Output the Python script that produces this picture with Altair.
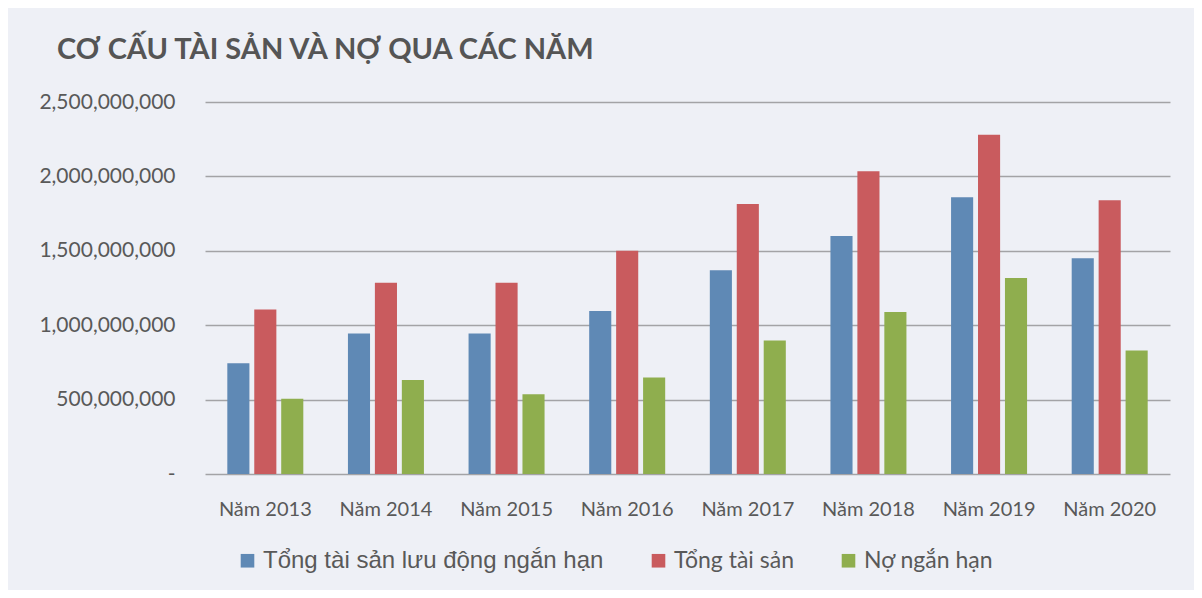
import altair as alt
import pandas as pd

years = ["Năm 2013", "Năm 2014", "Năm 2015", "Năm 2016", "Năm 2017", "Năm 2018", "Năm 2019", "Năm 2020"]
series = ["Tổng tài sản lưu động ngắn hạn", "Tổng tài sản", "Nợ ngắn hạn"]
tong_ts_luu_dong = [745e6, 945e6, 945e6, 1095e6, 1370e6, 1600e6, 1860e6, 1450e6]
tong_tai_san = [1105e6, 1285e6, 1285e6, 1500e6, 1815e6, 2035e6, 2280e6, 1840e6]
no_ngan_han = [505e6, 632e6, 536e6, 648e6, 897e6, 1088e6, 1318e6, 830e6]
y_ticks = [0, 500e6, 1000e6, 1500e6, 2000e6, 2500e6]
colors = ["#5f89b5", "#c95b5e", "#8fae4e"]

rows = []
for i, yr in enumerate(years):
    for s, vals in zip(series, [tong_ts_luu_dong, tong_tai_san, no_ngan_han]):
        rows.append({"Năm": yr, "Chỉ tiêu": s, "Giá trị": vals[i]})
df = pd.DataFrame(rows)

text_color = "#595959"
first = series[0]

chart = alt.Chart(df).mark_bar().encode(
    x=alt.X("Năm:N", sort=years,
            scale=alt.Scale(paddingInner=0.37, paddingOuter=0.185),
            axis=alt.Axis(title=None, labelAngle=0, ticks=False, domain=False,
                          labelFont="Lato", labelFontSize=20, labelColor=text_color,
                          labelPadding=25)),
    xOffset=alt.XOffset("Chỉ tiêu:N", sort=series,
                        scale=alt.Scale(paddingInner=0.18, paddingOuter=0)),
    y=alt.Y("Giá trị:Q", scale=alt.Scale(domain=[0, 2500e6]),
            axis=alt.Axis(title=None, values=y_ticks, grid=True, gridColor="#a3a3a6",
                          gridWidth=1.5, domain=False, ticks=False, labelPadding=30,
                          labelFont="Lato", labelFontSize=21, labelColor=text_color,
                          labelExpr="datum.value == 0 ? '-' : format(datum.value, ',')")),
    color=alt.Color("Chỉ tiêu:N", sort=series,
                    scale=alt.Scale(domain=series, range=colors),
                    legend=alt.Legend(title=None, orient="none", legendX=31, legendY=447,
                                      direction="horizontal", symbolType="square",
                                      symbolSize=185,
                                      labelFont={"expr": f"datum.label == '{first}' ? 'Liberation Sans' : 'Lato'"},
                                      labelFontSize={"expr": f"datum.label == '{first}' ? 24 : 23"},
                                      labelColor=text_color, columnPadding=43,
                                      labelOffset=4, labelLimit=0)),
).properties(
    width=965,
    height=372,
    title=alt.TitleParams("CƠ CẤU TÀI SẢN VÀ NỢ QUA CÁC NĂM", anchor="start", frame="group",
                          dx=-148, offset=26, font="Lato", fontSize=29, fontWeight="bold",
                          color="#555555"),
    autosize=alt.AutoSizeParams(type="none"),
    padding={"left": 197, "top": 94, "right": 24, "bottom": 116},
    background="#eef0f6",
).configure_view(stroke=None)

chart.save("out.html", embed_options={"renderer": "svg", "actions": False})
